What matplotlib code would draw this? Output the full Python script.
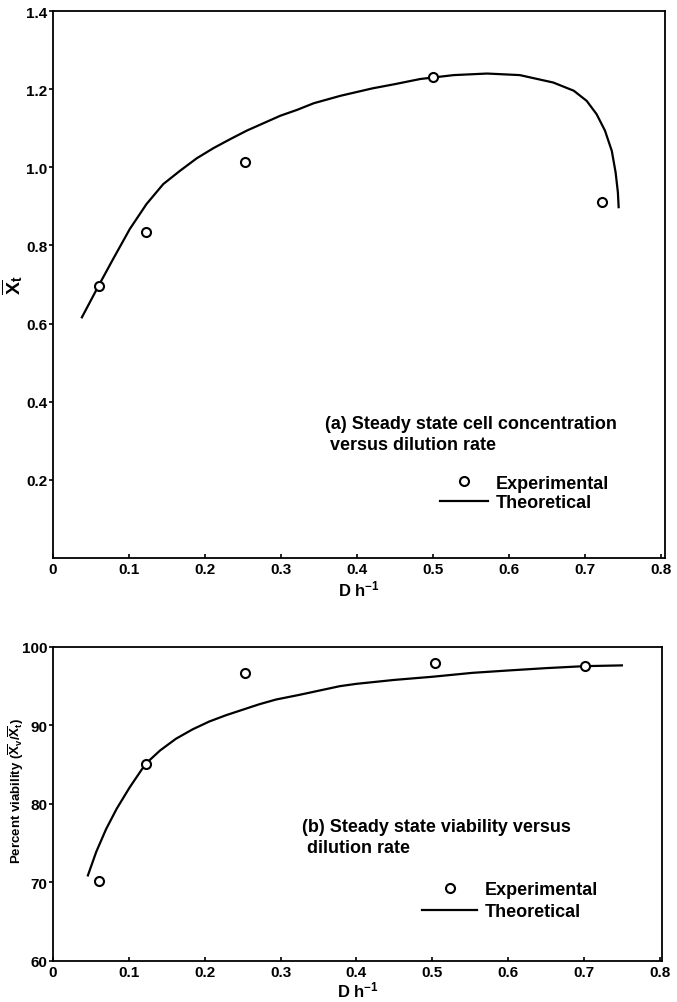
import matplotlib.pyplot as plt
from matplotlib.lines import Line2D

plt.rcParams['font.family'] = ['Liberation Sans', 'DejaVu Sans']
plt.rcParams['font.weight'] = 'bold'
plt.rcParams['mathtext.fontset'] = 'custom'
plt.rcParams['mathtext.rm'] = 'Liberation Sans:bold'
plt.rcParams['mathtext.it'] = 'Liberation Sans:bold'
plt.rcParams['mathtext.bf'] = 'Liberation Sans:bold'

# (a) cell concentration
exp_D_a = [0.06, 0.122, 0.253, 0.50, 0.722]
exp_X_a = [0.697, 0.835, 1.013, 1.230, 0.912]
th_D_a = [0.038, 0.060, 0.079, 0.101, 0.123, 0.145, 0.167, 0.189, 0.211, 0.233,
          0.255, 0.277, 0.299, 0.321, 0.343, 0.378, 0.42, 0.45, 0.483, 0.527,
          0.571, 0.614, 0.658, 0.685, 0.702, 0.715, 0.726, 0.735, 0.740, 0.743, 0.744]
th_X_a = [0.616, 0.697, 0.765, 0.842, 0.906, 0.957, 0.991, 1.023, 1.049, 1.072,
          1.094, 1.113, 1.132, 1.147, 1.164, 1.183, 1.202, 1.213, 1.226, 1.236,
          1.240, 1.236, 1.217, 1.196, 1.170, 1.136, 1.094, 1.042, 0.987, 0.936, 0.898]

# (b) viability
exp_D_b = [0.061, 0.122, 0.253, 0.504, 0.702]
exp_V_b = [70.2, 85.1, 96.7, 98.0, 97.6]
th_D_b = [0.046, 0.057, 0.070, 0.084, 0.101, 0.122, 0.141, 0.162, 0.184, 0.206,
          0.228, 0.250, 0.272, 0.294, 0.325, 0.378, 0.40, 0.45, 0.50, 0.553,
          0.60, 0.65, 0.70, 0.75]
th_V_b = [70.9, 73.9, 76.8, 79.4, 82.1, 85.1, 86.8, 88.3, 89.5, 90.5,
          91.3, 92.0, 92.7, 93.3, 93.9, 95.0, 95.3, 95.8, 96.2, 96.7,
          97.0, 97.3, 97.55, 97.65]

fig = plt.figure(figsize=(6.77, 10.03), dpi=100)
ax1 = fig.add_axes([0.0783, 0.4427, 0.904, 0.5453])
ax2 = fig.add_axes([0.0783, 0.0409, 0.8996, 0.3131])

for ax in (ax1, ax2):
    for s in ax.spines.values():
        s.set_linewidth(1.3)
    ax.tick_params(axis='y', direction='out', length=3, width=1.2, labelsize=11, pad=1)
    ax.tick_params(axis='x', direction='in', length=3, width=1.2, labelsize=11, pad=3)

# top panel
ax1.plot(th_D_a, th_X_a, color='black', lw=1.6)
ax1.plot(exp_D_a, exp_X_a, 'o', mfc='white', mec='black', mew=1.5, ms=6.5)
ax1.set_xlim(0, 0.805)
ax1.set_ylim(0, 1.4)
ax1.set_xticks([0, 0.1, 0.2, 0.3, 0.4, 0.5, 0.6, 0.7, 0.8])
ax1.set_xticklabels(['0', '0.1', '0.2', '0.3', '0.4', '0.5', '0.6', '0.7', '0.8'])
ax1.set_yticks([0.2, 0.4, 0.6, 0.8, 1.0, 1.2, 1.4])
ax1.set_yticklabels(['0.2', '0.4', '0.6', '0.8', '1.0', '1.2', '1.4'])
ax1.set_xlabel(r'D h$^{-1}$', fontsize=12, fontweight='bold', labelpad=2)
ax1.set_ylabel(r'$\overline{\mathrm{X}}_\mathrm{t}$', fontsize=14)
ax1.yaxis.set_label_coords(-0.046, 0.5)
ax1.text(0.444, 0.227, '(a) Steady state cell concentration\n versus dilution rate',
         transform=ax1.transAxes, fontsize=13, fontweight='bold', va='center',
         linespacing=1.3)
h_exp = Line2D([], [], marker='o', ls='none', mfc='white', mec='black', mew=1.5, ms=6.5)
h_th = Line2D([], [], color='black', lw=1.6)
ax1.legend([h_exp, h_th], ['Experimental', 'Theoretical'], loc='center left',
           bbox_to_anchor=(0.621, 0.119), frameon=False, handlelength=2.67,
           handletextpad=0.4, labelspacing=0.15, borderaxespad=0,
           prop={'size': 13, 'weight': 'bold'})

# bottom panel
ax2.plot(th_D_b, th_V_b, color='black', lw=1.6)
ax2.plot(exp_D_b, exp_V_b, 'o', mfc='white', mec='black', mew=1.5, ms=6.5)
ax2.set_xlim(0, 0.803)
ax2.set_ylim(60, 100)
ax2.set_xticks([0, 0.1, 0.2, 0.3, 0.4, 0.5, 0.6, 0.7, 0.8])
ax2.set_xticklabels(['0', '0.1', '0.2', '0.3', '0.4', '0.5', '0.6', '0.7', '0.8'])
ax2.set_yticks([60, 70, 80, 90, 100])
ax2.set_xlabel(r'D h$^{-1}$', fontsize=12, fontweight='bold', labelpad=0)
ax2.set_ylabel(r'Percent viability ($\overline{\mathrm{X}}_\mathrm{v}/\overline{\mathrm{X}}_\mathrm{t}$)',
               fontsize=9.5, fontweight='bold')
ax2.yaxis.set_label_coords(-0.045, 0.545)
ax2.text(0.409, 0.395, '(b) Steady state viability versus\n dilution rate',
         transform=ax2.transAxes, fontsize=13, fontweight='bold', va='center',
         linespacing=1.3)
ax2.legend([h_exp, h_th], ['Experimental', 'Theoretical'], loc='center left',
           bbox_to_anchor=(0.594, 0.192), frameon=False, handlelength=3.05,
           handletextpad=0.45, labelspacing=0.3, borderaxespad=0,
           prop={'size': 13, 'weight': 'bold'})

fig.savefig('out.png', dpi=100)
